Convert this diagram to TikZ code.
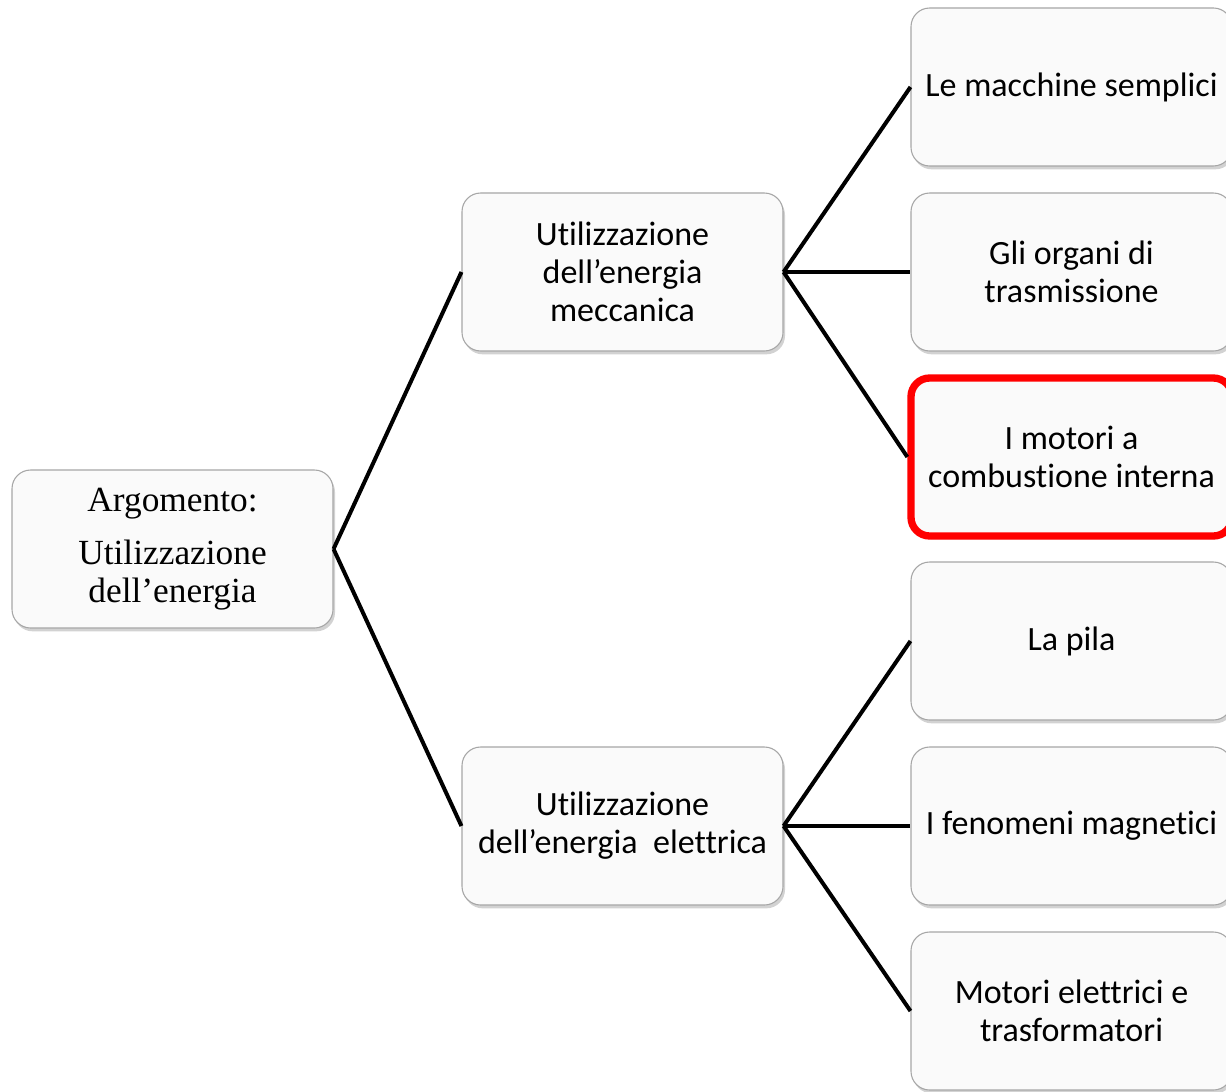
\documentclass[tikz,border=0pt]{standalone}
\usepackage{fontspec}
\setmainfont[Ligatures=NoCommon]{Carlito}
\newfontfamily\rootfont{Liberation Serif}
\usetikzlibrary{shadows}

\tikzset{
  box/.style={draw=gray!70, line width=0.8pt, fill=gray!4, rounded corners=14pt,
    minimum width=240.75pt, minimum height=118.5pt, inner sep=0pt,
    align=center, font=\fontsize{25.5}{28.5}\selectfont,
    drop shadow={opacity=0.35, shadow xshift=1.5pt, shadow yshift=-2.5pt}},
  hot/.style={box, draw=red, line width=5.5pt},
  link/.style={line width=3pt, black}
}

\begin{document}
\begin{tikzpicture}[x=0.75pt, y=-0.75pt]
  \useasboundingbox (0,0) rectangle (1226,1091);
  \fill[white] (0,0) rectangle (1226,1091);

  \node[box, font=\rootfont\fontsize{26.5}{28.5}\selectfont] (root) at (172.5,549)
    {Argomento:\\[11pt]Utilizzazione\\dell’energia};

  \node[box] (mec) at (622.5,272) {Utilizzazione\\dell’energia\\meccanica};
  \node[box] (ele) at (622.5,826) {Utilizzazione\\dell’energia\ \ elettrica};

  \node[box] (ms) at (1071.5,87) {Le macchine semplici};
  \node[box] (ot) at (1071.5,272) {Gli organi di\\trasmissione};
  \node[hot] (mc) at (1071.5,457) {I motori a\\combustione interna};
  \node[box] (lp) at (1071.5,641) {La pila};
  \node[box] (fm) at (1071.5,826) {I fenomeni magnetici};
  \node[box] (me) at (1071.5,1011) {Motori elettrici e\\trasformatori};

  \foreach \a/\b in {root/mec, root/ele, mec/ms, mec/ot, mec/mc, ele/lp, ele/fm, ele/me}{
    \draw[link] (\a.east) -- (\b.west);}
\end{tikzpicture}
\end{document}
